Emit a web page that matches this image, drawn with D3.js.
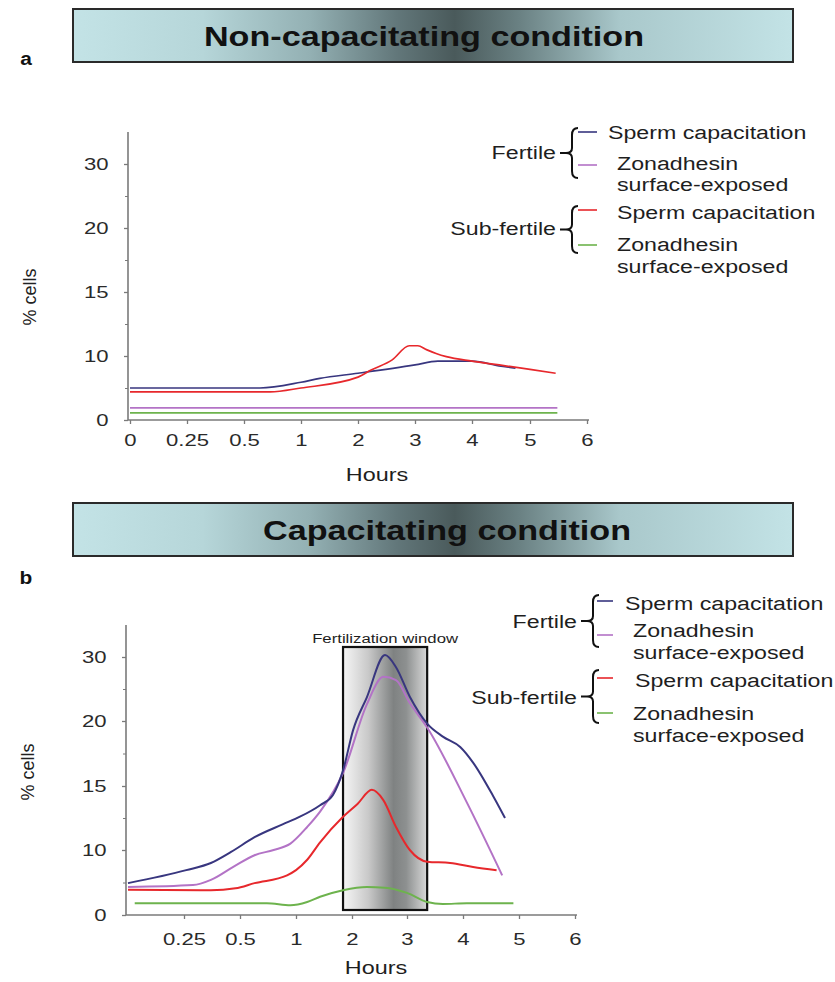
<!DOCTYPE html>
<html><head><meta charset="utf-8">
<script src="https://cdn.jsdelivr.net/npm/d3@7"></script>
<style>body{margin:0;background:#fff}svg{display:block;font-family:"Liberation Sans",Arial,sans-serif}</style>
</head><body>
<svg id="c" width="835" height="982"></svg>
<script>
// ---------- DATA ----------
const xTicks = [0, 0.25, 0.5, 1, 2, 3, 4, 5, 6];
const yTicks = [0, 10, 15, 20, 30];
const yMinor = [5, 12.5, 17.5, 25];
const seriesNames = ["Sperm capacitation", "Zonadhesin surface-exposed"];
const groups = ["Fertile", "Sub-fertile"];
const titleA = "Non-capacitating condition";
const titleB = "Capacitating condition";

// Panel a (non-capacitating)
const a_fertCap_h = [0, 0.64, 1, 1.33, 2, 3, 3.4, 4, 4.5, 4.75];
const a_fertCap_v = [5, 5, 5.9, 6.5, 7.3, 8.6, 9.2, 9.2, 8.4, 8.1];
const a_fertZona_h = [0, 5.48];
const a_fertZona_v = [1.9, 1.9];
const a_subCap_h = [0, 0.73, 1, 2, 2.23, 2.6, 2.9, 3.05, 3.2, 3.37, 3.55, 4, 4.47, 5, 5.45];
const a_subCap_v = [4.4, 4.4, 5.0, 6.7, 7.8, 9.4, 10.8, 10.8, 10.5, 10.2, 9.9, 9.2, 8.6, 7.9, 7.3];
const a_subZona_h = [0, 5.48];
const a_subZona_v = [1.1, 1.1];

// Panel b (capacitating)
const b_fertCap_h = [0, 0.26, 0.37, 0.46, 0.63, 0.88, 1.07, 1.43, 1.66, 1.84, 2.02, 2.27, 2.6, 2.8, 3.05, 3.36, 3.64, 3.95, 4.18, 4.54, 4.75];
const b_fertCap_v = [4.9, 6.9, 8.0, 9.7, 11.0, 12.0, 12.6, 13.5, 14.3, 16.2, 19.3, 23.7, 30.3, 28.4, 23.8, 19.8, 18.8, 18.0, 16.8, 14.2, 12.5];
const b_fertZona_h = [0, 0.29, 0.37, 0.47, 0.63, 0.8, 0.95, 1.2, 1.43, 1.84, 2.27, 2.57, 2.8, 3.05, 3.36, 4.07, 4.7];
const b_fertZona_v = [4.3, 4.6, 5.4, 7.4, 9.2, 10.0, 10.5, 11.8, 13.0, 16.0, 22.6, 26.9, 26.4, 22.8, 19.5, 13.7, 6.1];
const b_subCap_h = [0, 0.37, 0.48, 0.63, 0.92, 1.0, 1.2, 1.43, 1.84, 2.1, 2.36, 2.57, 2.8, 3.05, 3.36, 3.77, 4.18, 4.6];
const b_subCap_v = [3.9, 3.8, 4.1, 4.9, 6.1, 6.9, 8.5, 10.6, 12.6, 13.6, 14.7, 13.9, 11.8, 10.0, 8.2, 8.0, 7.4, 6.9];
const b_subZona_h = [0.03, 0.74, 0.95, 1.2, 1.43, 1.84, 2.27, 2.6, 3.0, 3.36, 3.64, 4.07, 4.9];
const b_subZona_v = [1.8, 1.8, 1.5, 2.0, 2.8, 3.8, 4.3, 4.2, 3.4, 2.0, 1.7, 1.8, 1.8];
const fertWindow = [1.84, 3.36];
const fertWindowLabel = "Fertilization window";

const colors = {fertCap: "#38367f", fertZona: "#b373c6", subCap: "#e7282c", subZona: "#6db34d"};

// ---------- DRAW ----------
const svg = d3.select("#c");
const defs = svg.append("defs");
const bg = defs.append("linearGradient").attr("id", "banner").attr("x1", "0%").attr("x2", "100%");
[[0, "#c3e3e6"], [0.18, "#b6d6d9"], [0.33, "#93b0b3"], [0.45, "#62777a"], [0.53, "#4a5a5b"], [0.62, "#6a8183"], [0.76, "#a9c8cb"], [1, "#c3e3e6"]]
  .forEach(([o, c]) => bg.append("stop").attr("offset", o).attr("stop-color", c));
const wg = defs.append("linearGradient").attr("id", "win").attr("x1", "0%").attr("x2", "100%");
[[0, "#f6f6f6"], [0.3, "#c9c9c9"], [0.6, "#7f8282"], [0.75, "#8d9090"], [1, "#d8d8d8"]]
  .forEach(([o, c]) => wg.append("stop").attr("offset", o).attr("stop-color", c));

function txt(parent, x, y, s, o = {}) {
  return parent.append("text")
    .attr("transform", `translate(${x},${y}) scale(${o.sx || 1.22},1)`)
    .attr("text-anchor", o.anchor || "start")
    .attr("dy", "0.35em")
    .attr("font-size", o.size || 19)
    .attr("font-weight", o.weight || "normal")
    .attr("fill", o.fill || "#1e1e1e")
    .text(s);
}

function banner(y0, y1, title, tx, letter, ly) {
  svg.append("rect").attr("x", 73).attr("y", y0).attr("width", 720).attr("height", y1 - y0)
    .attr("fill", "url(#banner)").attr("stroke", "#2a2a2a").attr("stroke-width", 2);
  txt(svg, tx, (y0 + y1) / 2 + 1, title, {size: 28, weight: "bold", anchor: "middle", sx: 1.22, fill: "#111"});
  txt(svg, 26, ly, letter, {size: 19, weight: "bold", anchor: "middle", sx: 1.1, fill: "#111"});
}

function brace(x, yT, yB) {
  const m = (yT + yB) / 2;
  svg.append("path").attr("fill", "none").attr("stroke", "#111").attr("stroke-width", 2)
    .attr("d", `M${x + 6},${yT} Q${x},${yT} ${x},${yT + 7} L${x},${m - 5} Q${x},${m} ${x - 6},${m} L${x - 12},${m} M${x - 6},${m} Q${x},${m} ${x},${m + 5} L${x},${yB - 7} Q${x},${yB} ${x + 6},${yB}`);
}

function legend(L) {
  txt(svg, L.gx, L.f.mid, groups[0], {anchor: "end"});
  brace(L.bx, L.f.t, L.f.b);
  txt(svg, L.gx, L.s.mid, groups[1], {anchor: "end"});
  brace(L.bx, L.s.t, L.s.b);
  const marks = [[colors.fertCap, L.m[0]], [colors.fertZona, L.m[1]], [colors.subCap, L.m[2]], [colors.subZona, L.m[3]]];
  marks.forEach(([c, y]) => svg.append("line").attr("x1", L.mx[0]).attr("x2", L.mx[1]).attr("y1", y).attr("y2", y)
    .attr("stroke", c).attr("stroke-width", 2).attr("opacity", 0.8));
  txt(svg, L.t1x, L.t[0], seriesNames[0]);
  txt(svg, L.t2x, L.t[1], "Zonadhesin");
  txt(svg, L.t2x, L.t[2], "surface-exposed");
  txt(svg, L.t3x, L.t[3], seriesNames[0]);
  txt(svg, L.t2x, L.t[4], "Zonadhesin");
  txt(svg, L.t2x, L.t[5], "surface-exposed");
}

function panel(P) {
  const x = d3.scaleLinear().domain(xTicks).range(P.xr);
  const y = d3.scaleLinear().domain([...yTicks, 35]).range(P.yr);
  const g = svg.append("g");

  if (P.window) {
    g.append("rect").attr("x", x(fertWindow[0])).attr("y", P.winTop)
      .attr("width", x(fertWindow[1]) - x(fertWindow[0])).attr("height", P.winBot - P.winTop)
      .attr("fill", "url(#win)").attr("stroke", "#111").attr("stroke-width", 2.2);
    txt(g, (x(fertWindow[0]) + x(fertWindow[1])) / 2, P.winTop - 9, fertWindowLabel, {size: 13.5, anchor: "middle", sx: 1.24});
  }

  // axes
  const ya = d3.axisLeft(y).tickValues(yTicks).tickSize(4).tickPadding(11).tickFormat(d3.format("d"));
  const yg = g.append("g").attr("transform", `translate(${P.xr[0] - 2},0)`).call(ya);
  const ym = d3.axisLeft(y).tickValues(yMinor).tickSize(3).tickFormat("");
  g.append("g").attr("transform", `translate(${P.xr[0] - 2},0)`).call(ym).select(".domain").remove();
  const xa = d3.axisBottom(x).tickValues(P.xLabels).tickSize(4).tickPadding(P.xPad).tickFormat(d => String(d));
  const xg = g.append("g").attr("transform", `translate(0,${P.yr[0]})`).call(xa);
  [yg, xg].forEach(a => {
    a.select(".domain").attr("stroke", "#7a7a7a").attr("stroke-width", 1.6);
    a.selectAll(".tick line").attr("stroke", "#7a7a7a").attr("stroke-width", 1.3);
    a.selectAll("text").attr("font-size", 17).attr("fill", "#2a2a2a")
      .attr("font-family", "Liberation Sans, Arial, sans-serif");
  });
  g.selectAll("g .tick line").attr("stroke", "#7a7a7a");
  yg.selectAll("text").attr("transform", "scale(1.3,1)");
  xg.selectAll("text").attr("transform", "scale(1.3,1)");
  xg.select(".domain").attr("d", `M${P.xr[0] - 2},0H${P.xr[P.xr.length - 1] + 2}`);
  yg.select(".domain").attr("d", `M0,${P.yr[0]}V${P.yr[P.yr.length - 1]}`);

  // lines
  const line = d3.line().x(d => x(d[0])).y(d => y(d[1])).curve(d3.curveMonotoneX);
  P.series.forEach(s => {
    g.append("path").datum(d3.zip(s.h, s.v)).attr("d", line).attr("fill", "none")
      .attr("stroke", s.c).attr("stroke-width", P.lw).attr("stroke-linejoin", "round");
  });

  // axis titles
  txt(g, P.hoursX, P.hoursY, "Hours", {size: 18, anchor: "middle", sx: 1.3});
  g.append("text").attr("transform", `translate(${P.ylabX},${P.ylabY}) rotate(-90)`)
    .attr("text-anchor", "middle").attr("dy", "0.35em").attr("font-size", 18).attr("fill", "#222").text("% cells");
}

// Panel a
banner(9, 62, titleA, 424, "a", 58);
panel({
  xr: [130, 187, 244, 301, 358, 415, 472, 530, 587],
  yr: [420, 356, 292, 228, 164, 132],
  xLabels: xTicks, xPad: 10, lw: 1.7,
  hoursX: 377, hoursY: 475, ylabX: 30, ylabY: 297,
  series: [
    {h: a_fertZona_h, v: a_fertZona_v, c: colors.fertZona},
    {h: a_subZona_h, v: a_subZona_v, c: colors.subZona},
    {h: a_fertCap_h, v: a_fertCap_v, c: colors.fertCap},
    {h: a_subCap_h, v: a_subCap_v, c: colors.subCap}
  ]
});
legend({gx: 556, bx: 572, mx: [578, 597],
  f: {t: 128, b: 178, mid: 152}, s: {t: 206, b: 253, mid: 228},
  m: [132, 165, 210, 245], t1x: 608, t2x: 617, t3x: 617,
  t: [132, 163, 184, 212, 244, 266]});

// Panel b
banner(503, 556, titleB, 447, "b", 577);
panel({
  xr: [128, 184, 240, 296, 352, 407, 463, 519, 575],
  yr: [915, 850, 786, 721, 657, 625],
  xLabels: xTicks.slice(1), xPad: 14, lw: 2,
  window: true, winTop: 647, winBot: 910,
  hoursX: 376, hoursY: 968, ylabX: 28, ylabY: 772,
  series: [
    {h: b_subZona_h, v: b_subZona_v, c: colors.subZona},
    {h: b_subCap_h, v: b_subCap_v, c: colors.subCap},
    {h: b_fertZona_h, v: b_fertZona_v, c: colors.fertZona},
    {h: b_fertCap_h, v: b_fertCap_v, c: colors.fertCap}
  ]
});
legend({gx: 577, bx: 593, mx: [597, 613],
  f: {t: 595, b: 647, mid: 621}, s: {t: 670, b: 723, mid: 697},
  m: [601, 635, 678, 713], t1x: 625, t2x: 633, t3x: 635,
  t: [603, 630, 652, 680, 713, 735]});
</script>
</body></html>
